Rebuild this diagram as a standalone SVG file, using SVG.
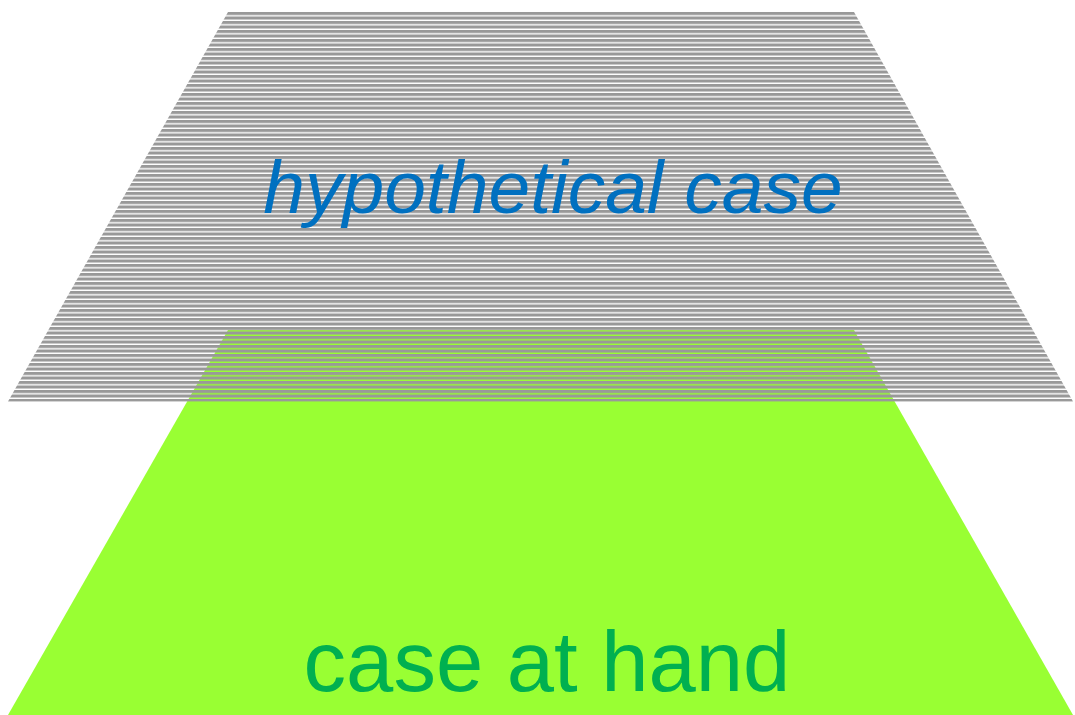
<svg xmlns="http://www.w3.org/2000/svg" width="1075" height="715" viewBox="0 0 1075 715">
  <style>
    .lbl { font-family: "Liberation Sans", Arial, sans-serif; text-anchor: middle; }
  </style>
  <defs>
    <pattern id="stripes" patternUnits="userSpaceOnUse" x="0" y="12" width="1075" height="4.5">
      <rect x="0" y="0" width="1075" height="3.1" fill="#999999"/>
    </pattern>
  </defs>
  <rect width="1075" height="715" fill="#ffffff"/>
  <g id="case-at-hand">
    <polygon points="228,330 854,330 1073,715 8,715" fill="#99ff33"/>
    <text class="lbl" x="547" y="691" font-size="85" fill="#00b050">case at hand</text>
  </g>
  <g id="hypothetical-case">
    <polygon points="228,12 854,12 1073,401.5 8,401.5" fill="url(#stripes)"/>
    <text class="lbl" x="553" y="213" font-size="75" font-style="italic" fill="#0070c0">hypothetical case</text>
  </g>
  <g id="connectors"/>
</svg>
